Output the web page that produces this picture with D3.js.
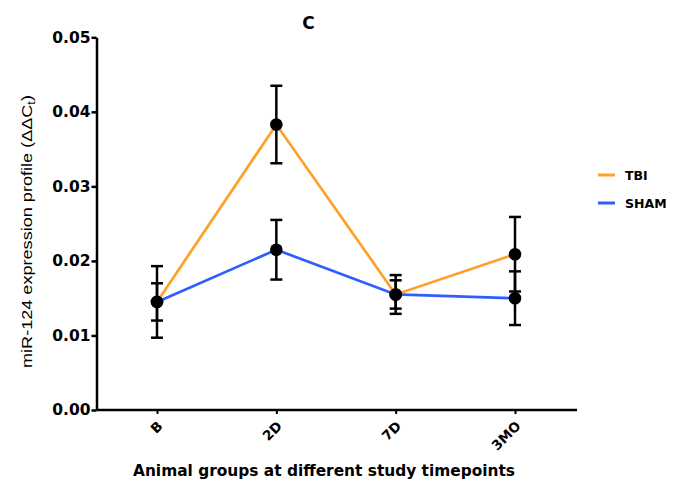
<!DOCTYPE html>
<html><head><meta charset="utf-8">
<script src="https://cdn.jsdelivr.net/npm/d3@7"></script>
<style>body{margin:0;background:#fff}text{font-family:"DejaVu Sans",Arial,sans-serif}</style>
</head><body>
<svg id="c" width="687" height="488"></svg>
<script>
const categories = ["B", "2D", "7D", "3MO"];
const tbiMean = [0.0145, 0.0383, 0.0155, 0.0209];
const tbiErr  = [0.0048, 0.0052, 0.0026, 0.0050];
const shamMean = [0.0145, 0.0215, 0.0155, 0.0150];
const shamErr  = [0.0025, 0.0040, 0.0019, 0.0036];
const yTicks = [0, 0.01, 0.02, 0.03, 0.04, 0.05];
const seriesNames = ["TBI", "SHAM"];
const colors = ["#FFA126", "#2E5EFF"];

const svg = d3.select("#c");
const x0 = 96.5, x1 = 577, yTop = 37.3, yBot = 410;
const x = d3.scalePoint().domain(categories).range([157, 515]);
const y = d3.scaleLinear().domain([0, 0.05]).range([yBot, yTop]);

// axes
const ya = svg.append("g").attr("transform", `translate(${x0},0)`)
  .call(d3.axisLeft(y).tickValues(yTicks).tickFormat(d3.format(".2f")).tickSize(5).tickSizeOuter(0));
ya.select(".domain").attr("stroke", "#000").attr("stroke-width", 2.5);
ya.selectAll(".tick line").attr("stroke-width", 2.5);
ya.selectAll(".tick text").attr("font-size", 15.5).attr("font-weight", "bold").attr("x", -6).attr("fill", "#000")
  .style("font-family", "'DejaVu Sans'");

const xa = svg.append("g").attr("transform", `translate(0,${yBot})`)
  .call(d3.axisBottom(x).tickSize(4).tickSizeOuter(0));
xa.select(".domain").attr("d", `M${x0},0H${x1}`).attr("stroke", "#000").attr("stroke-width", 2.5);
xa.selectAll(".tick line").attr("stroke-width", 2);
xa.selectAll(".tick text").attr("font-size", 13.5).attr("font-weight", "bold").attr("fill", "#000")
  .style("font-family", "'DejaVu Sans'")
  .attr("text-anchor", "end").attr("dy", 0).attr("y", 0)
  .attr("transform", "translate(6,17) rotate(-45)");

// lines
const series = [tbiMean, shamMean];
const errs = [tbiErr, shamErr];
const line = d3.line().x((d, i) => x(categories[i])).y(d => y(d));
series.forEach((s, k) => {
  svg.append("path").attr("d", line(s)).attr("fill", "none")
    .attr("stroke", colors[k]).attr("stroke-width", 2.7);
});
// error bars
series.forEach((s, k) => {
  s.forEach((v, i) => {
    const cx = x(categories[i]);
    const lo = y(v - errs[k][i]), hi = y(v + errs[k][i]);
    const g = svg.append("g").attr("stroke", "#000").attr("stroke-width", 2.5);
    g.append("line").attr("x1", cx).attr("x2", cx).attr("y1", lo).attr("y2", hi);
    g.append("line").attr("x1", cx - 6).attr("x2", cx + 6).attr("y1", lo).attr("y2", lo);
    g.append("line").attr("x1", cx - 6).attr("x2", cx + 6).attr("y1", hi).attr("y2", hi);
  });
});
series.forEach((s, k) => {
  svg.append("g").selectAll("circle").data(s).join("circle")
    .attr("cx", (d, i) => x(categories[i])).attr("cy", d => y(d)).attr("r", 6.3).attr("fill", "#000");
});

// title
svg.append("text").attr("x", 308.5).attr("y", 29).attr("text-anchor", "middle")
  .attr("font-size", 17).attr("font-weight", "bold").text("C");

// y label
const yl = svg.append("text").attr("transform", "translate(32,231.5) rotate(-90)")
  .attr("text-anchor", "middle").attr("font-size", 14)
  .style("font-family", "'Liberation Sans', Arial, sans-serif")
  .attr("textLength", 273).attr("lengthAdjust", "spacingAndGlyphs");
yl.append("tspan").text("miR-124 expression profile (ΔΔC");
yl.append("tspan").attr("font-size", 10).attr("dy", 3).text("t");
yl.append("tspan").attr("dy", -3).text(")");

// x label
svg.append("text").attr("x", 324).attr("y", 476).attr("text-anchor", "middle")
  .attr("font-size", 15).attr("font-weight", "bold")
  .attr("textLength", 382).attr("lengthAdjust", "spacingAndGlyphs")
  .text("Animal groups at different study timepoints");

// legend
seriesNames.forEach((n, k) => {
  const ly = 175 + k * 28;
  svg.append("line").attr("x1", 598).attr("x2", 615).attr("y1", ly).attr("y2", ly)
    .attr("stroke", colors[k]).attr("stroke-width", 3);
  svg.append("text").attr("x", 625).attr("y", ly + 5).attr("font-size", 12.5).attr("font-weight", "bold").text(n);
});
</script>
</body></html>
